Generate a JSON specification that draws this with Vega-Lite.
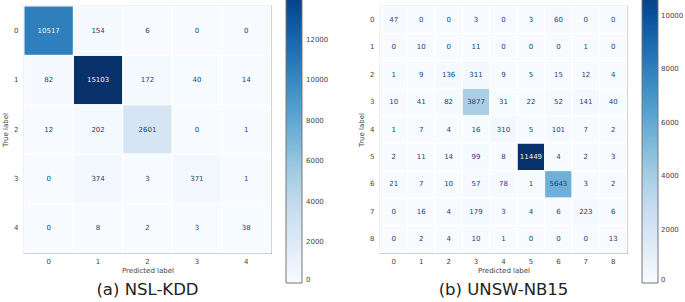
{
  "$schema": "https://vega.github.io/schema/vega-lite/v6.json",
  "padding": {"left": 0, "top": -24, "right": 0, "bottom": 2},
  "background": "white",
  "config": {
    "font": "DejaVu Sans",
    "view": {"stroke": "#a0a0a0", "strokeWidth": 1.2},
    "axis": {"domain": false, "ticks": false, "grid": false, "labelFontSize": 7, "labelColor": "#444", "titleFontSize": 7, "titleFontWeight": "normal", "titleColor": "#444", "labelAngle": 0},
    "legend": {"padding": 0},
    "title": {"fontSize": 16.5, "fontWeight": "normal", "color": "#222", "font": "DejaVu Sans"}
  },
  "datasets": {
    "nsl": [
      {"t": 0, "p": 0, "n": 10517}, {"t": 0, "p": 1, "n": 154}, {"t": 0, "p": 2, "n": 6}, {"t": 0, "p": 3, "n": 0}, {"t": 0, "p": 4, "n": 0},
      {"t": 1, "p": 0, "n": 82}, {"t": 1, "p": 1, "n": 15103}, {"t": 1, "p": 2, "n": 172}, {"t": 1, "p": 3, "n": 40}, {"t": 1, "p": 4, "n": 14},
      {"t": 2, "p": 0, "n": 12}, {"t": 2, "p": 1, "n": 202}, {"t": 2, "p": 2, "n": 2601}, {"t": 2, "p": 3, "n": 0}, {"t": 2, "p": 4, "n": 1},
      {"t": 3, "p": 0, "n": 0}, {"t": 3, "p": 1, "n": 374}, {"t": 3, "p": 2, "n": 3}, {"t": 3, "p": 3, "n": 371}, {"t": 3, "p": 4, "n": 1},
      {"t": 4, "p": 0, "n": 0}, {"t": 4, "p": 1, "n": 8}, {"t": 4, "p": 2, "n": 2}, {"t": 4, "p": 3, "n": 3}, {"t": 4, "p": 4, "n": 38}
    ],
    "unsw": [
      {"t": 0, "p": 0, "n": 47}, {"t": 0, "p": 1, "n": 0}, {"t": 0, "p": 2, "n": 0}, {"t": 0, "p": 3, "n": 3}, {"t": 0, "p": 4, "n": 0}, {"t": 0, "p": 5, "n": 3}, {"t": 0, "p": 6, "n": 60}, {"t": 0, "p": 7, "n": 0}, {"t": 0, "p": 8, "n": 0},
      {"t": 1, "p": 0, "n": 0}, {"t": 1, "p": 1, "n": 10}, {"t": 1, "p": 2, "n": 0}, {"t": 1, "p": 3, "n": 11}, {"t": 1, "p": 4, "n": 0}, {"t": 1, "p": 5, "n": 0}, {"t": 1, "p": 6, "n": 0}, {"t": 1, "p": 7, "n": 1}, {"t": 1, "p": 8, "n": 0},
      {"t": 2, "p": 0, "n": 1}, {"t": 2, "p": 1, "n": 9}, {"t": 2, "p": 2, "n": 136}, {"t": 2, "p": 3, "n": 311}, {"t": 2, "p": 4, "n": 9}, {"t": 2, "p": 5, "n": 5}, {"t": 2, "p": 6, "n": 15}, {"t": 2, "p": 7, "n": 12}, {"t": 2, "p": 8, "n": 4},
      {"t": 3, "p": 0, "n": 10}, {"t": 3, "p": 1, "n": 41}, {"t": 3, "p": 2, "n": 82}, {"t": 3, "p": 3, "n": 3877}, {"t": 3, "p": 4, "n": 31}, {"t": 3, "p": 5, "n": 22}, {"t": 3, "p": 6, "n": 52}, {"t": 3, "p": 7, "n": 141}, {"t": 3, "p": 8, "n": 40},
      {"t": 4, "p": 0, "n": 1}, {"t": 4, "p": 1, "n": 7}, {"t": 4, "p": 2, "n": 4}, {"t": 4, "p": 3, "n": 16}, {"t": 4, "p": 4, "n": 310}, {"t": 4, "p": 5, "n": 5}, {"t": 4, "p": 6, "n": 101}, {"t": 4, "p": 7, "n": 7}, {"t": 4, "p": 8, "n": 2},
      {"t": 5, "p": 0, "n": 2}, {"t": 5, "p": 1, "n": 11}, {"t": 5, "p": 2, "n": 14}, {"t": 5, "p": 3, "n": 99}, {"t": 5, "p": 4, "n": 8}, {"t": 5, "p": 5, "n": 11449}, {"t": 5, "p": 6, "n": 4}, {"t": 5, "p": 7, "n": 2}, {"t": 5, "p": 8, "n": 3},
      {"t": 6, "p": 0, "n": 21}, {"t": 6, "p": 1, "n": 7}, {"t": 6, "p": 2, "n": 10}, {"t": 6, "p": 3, "n": 57}, {"t": 6, "p": 4, "n": 78}, {"t": 6, "p": 5, "n": 1}, {"t": 6, "p": 6, "n": 5643}, {"t": 6, "p": 7, "n": 3}, {"t": 6, "p": 8, "n": 2},
      {"t": 7, "p": 0, "n": 0}, {"t": 7, "p": 1, "n": 16}, {"t": 7, "p": 2, "n": 4}, {"t": 7, "p": 3, "n": 179}, {"t": 7, "p": 4, "n": 3}, {"t": 7, "p": 5, "n": 4}, {"t": 7, "p": 6, "n": 6}, {"t": 7, "p": 7, "n": 223}, {"t": 7, "p": 8, "n": 6},
      {"t": 8, "p": 0, "n": 0}, {"t": 8, "p": 1, "n": 2}, {"t": 8, "p": 2, "n": 4}, {"t": 8, "p": 3, "n": 10}, {"t": 8, "p": 4, "n": 1}, {"t": 8, "p": 5, "n": 0}, {"t": 8, "p": 6, "n": 0}, {"t": 8, "p": 7, "n": 0}, {"t": 8, "p": 8, "n": 13}
    ]
  },
  "resolve": {"scale": {"color": "independent"}, "legend": {"color": "independent"}},
  "spacing": 26,
  "hconcat": [
    {
      "width": 247, "height": 247,
      "title": {"text": "(a) NSL-KDD", "orient": "bottom", "offset": -2},
      "data": {"name": "nsl"},
      "encoding": {
        "x": {"field": "p", "type": "ordinal", "title": "Predicted label", "scale": {"paddingInner": 0, "paddingOuter": 0}, "axis": {"labelPadding": 4, "titlePadding": 2}},
        "y": {"field": "t", "type": "ordinal", "title": "True label", "scale": {"paddingInner": 0, "paddingOuter": 0}, "axis": {"labelPadding": 6, "titlePadding": 5}}
      },
      "layer": [
        {
          "mark": {"type": "rect", "stroke": "white", "strokeWidth": 1},
          "encoding": {
            "color": {"field": "n", "type": "quantitative",
              "scale": {"domain": [0, 1887.875, 3775.75, 5663.625, 7551.5, 9439.375, 11327.25, 13215.125, 15103], "range": ["#f7fbff", "#deebf7", "#c6dbef", "#9ecae1", "#6baed6", "#4292c6", "#2171b5", "#08519c", "#08306b"], "interpolate": "rgb"},
              "legend": {"orient": "none", "legendX": 262, "legendY": -29, "direction": "vertical", "gradientLength": 306, "gradientThickness": 16, "title": null, "values": [0, 2000, 4000, 6000, 8000, 10000, 12000], "format": "d", "labelFontSize": 7, "labelColor": "#444", "gradientStrokeColor": "#777", "gradientStrokeWidth": 1, "labelOffset": 4}}
          }
        },
        {
          "mark": {"type": "text", "fontSize": 7},
          "encoding": {
            "text": {"field": "n", "type": "quantitative", "format": "d"},
            "color": {"condition": {"test": "datum.n > 7551", "value": "#f0f5fb"}, "value": "#1c3f7c"}
          }
        }
      ]
    },
    {
      "width": 247, "height": 247,
      "title": {"text": "(b) UNSW-NB15", "orient": "bottom", "offset": -2},
      "data": {"name": "unsw"},
      "encoding": {
        "x": {"field": "p", "type": "ordinal", "title": "Predicted label", "scale": {"paddingInner": 0, "paddingOuter": 0}, "axis": {"labelPadding": 4, "titlePadding": 2}},
        "y": {"field": "t", "type": "ordinal", "title": "True label", "scale": {"paddingInner": 0, "paddingOuter": 0}, "axis": {"labelPadding": 6, "titlePadding": 5}}
      },
      "layer": [
        {
          "mark": {"type": "rect", "stroke": "white", "strokeWidth": 1},
          "encoding": {
            "color": {"field": "n", "type": "quantitative",
              "scale": {"domain": [0, 1431.125, 2862.25, 4293.375, 5724.5, 7155.625, 8586.75, 10017.875, 11449], "range": ["#f7fbff", "#deebf7", "#c6dbef", "#9ecae1", "#6baed6", "#4292c6", "#2171b5", "#08519c", "#08306b"], "interpolate": "rgb"},
              "legend": {"orient": "none", "legendX": 262, "legendY": -29, "direction": "vertical", "gradientLength": 306, "gradientThickness": 16, "title": null, "values": [0, 2000, 4000, 6000, 8000, 10000], "format": "d", "labelFontSize": 7, "labelColor": "#444", "gradientStrokeColor": "#777", "gradientStrokeWidth": 1, "labelOffset": 3}}
          }
        },
        {
          "mark": {"type": "text", "fontSize": 7},
          "encoding": {
            "text": {"field": "n", "type": "quantitative", "format": "d"},
            "color": {"condition": {"test": "datum.n > 5724", "value": "#f0f5fb"}, "value": "#1c3f7c"}
          }
        }
      ]
    }
  ]
}
